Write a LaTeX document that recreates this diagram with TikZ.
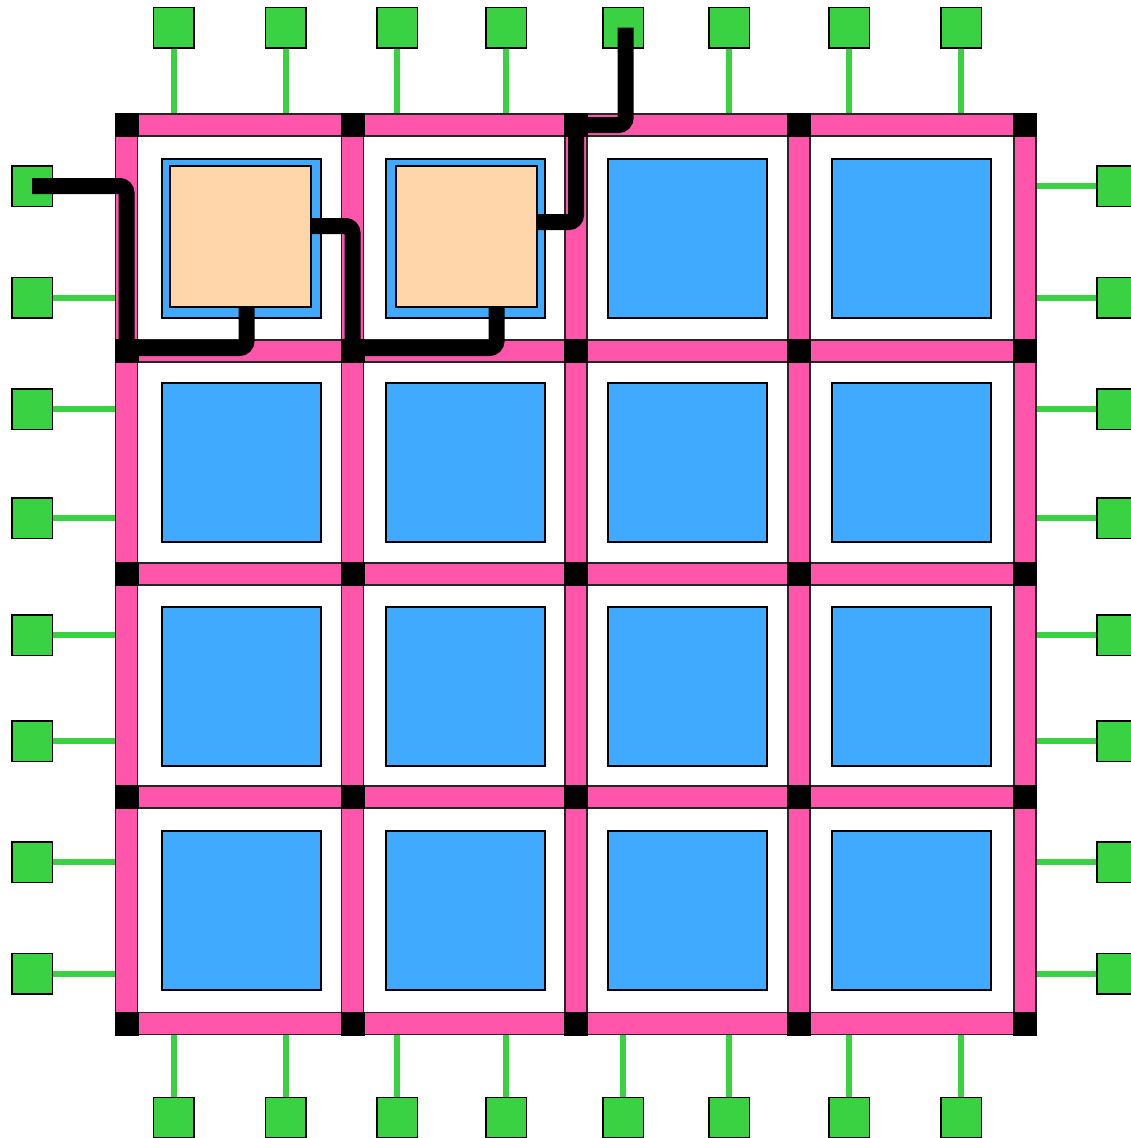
\documentclass[tikz,border=0pt]{standalone}
\usetikzlibrary{positioning}
\definecolor{chanpink}{RGB}{255,85,170}
\definecolor{clbblue}{RGB}{63,170,255}
\definecolor{lutpeach}{RGB}{255,213,170}
\definecolor{padgreen}{RGB}{58,210,66}
\tikzset{
  clb/.style={draw,line width=2pt,fill=clbblue,minimum size=159pt,inner sep=0pt},
  lut/.style={draw,line width=2pt,fill=lutpeach,minimum size=141pt,inner sep=0pt},
  swbox/.style={fill=black,minimum size=24pt,inner sep=0pt},
  chan/.style={draw=black!85,line width=1.2pt,fill=chanpink},
  pad/.style={draw,line width=1.5pt,fill=padgreen,minimum size=40.5pt,inner sep=0pt},
  wire/.style={padgreen,line width=6pt},
  route/.style={line width=16pt,rounded corners=7pt},
}
\begin{document}
\begin{tikzpicture}[x=1pt,y=-1pt]
    \useasboundingbox (0,0) rectangle (1130,1138);
    % edges of the array
    \coordinate (edgeN) at (0,113.5);
    \coordinate (edgeS) at (0,1035);
    \coordinate (edgeW) at (115,0);
    \coordinate (edgeE) at (1036.5,0);
    % I/O pads
    \foreach \x [count=\k] in {173.5,285.5,397,506,623,729,849,961} {
      \node[pad] (pt\k) at (\x,27.5) {};
      \node[pad] (pb\k) at (\x,1117.5) {};
      \draw[wire] (pt\k.south) -- (pt\k |- edgeN);
      \draw[wire] (pb\k.north) -- (pb\k |- edgeS);
    }
    \foreach \y [count=\k] in {186,297.5,409,518,635,741,862,973.5} {
      \node[pad] (pl\k) at (32,\y) {};
      \node[pad] (pr\k) at (1117,\y) {};
      \draw[wire] (pl\k.east) -- (pl\k -| edgeW);
      \draw[wire] (pr\k.west) -- (pr\k -| edgeE);
    }
    % routing channels
    \foreach \y in {125,351,574,797,1023.5}
      \draw[chan] (126.5,\y-11) rectangle (1025,\y+11);
    \foreach \x in {126.5,352.5,576,799,1025}
      \draw[chan] (\x-11,125) rectangle (\x+11,1023.5);
    % switch blocks
    \foreach \x [count=\i] in {126.5,352.5,576,799,1025}
      \foreach \y [count=\j] in {125,351,574,797,1023.5}
        \node[swbox] (sb\i\j) at (\x,\y) {};
    % logic blocks
    \foreach \x [count=\i] in {241.5,465.5,687,911}
      \foreach \y [count=\j] in {238.5,462.5,686,910}
        \node[clb] (clb\i\j) at (\x,\y) {};
    \node[lut] (lut1) at ([shift={(-1,-2)}]clb11) {};
    \node[lut] (lut2) at ([shift={(0.5,-2)}]clb21) {};
    % routed nets
    \draw[route] (pl1.center) -| ([yshift=3pt]sb12.center) -| ([xshift=6pt]lut1.south);
    \draw[route] ([yshift=10.5pt]lut1.east) -| ([yshift=3pt]sb22.center) -| ([xshift=30.5pt]lut2.south);
    \draw[route] ([yshift=14.5pt]lut2.east) -| (sb31.center) -| ([xshift=2.5pt]pt5.center);
\end{tikzpicture}
\end{document}
